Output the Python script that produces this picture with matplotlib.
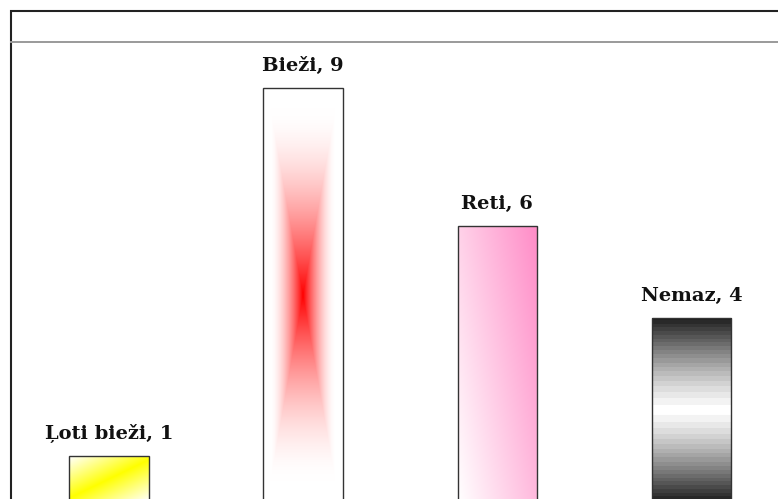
import numpy as np
import matplotlib.pyplot as plt
from matplotlib.patches import Rectangle
from matplotlib.lines import Line2D

categories = ["Ļoti bieži", "Bieži", "Reti", "Nemaz"]
values = [1, 9, 6, 4]
fill_styles = ["axial_diag", "rect", "linear", "axial_vert"]
fill_colors = ["#ffff00", "#ff0000", "#ff8ec8", "#1e1e1e"]

W, H = 778, 499
BAR_W = 0.41


def gradient(style, color, nx, ny):
    """Return an RGB array (row 0 = top) filling a bar of nx by ny pixels."""
    u = np.linspace(-1, 1, nx)[None, :]
    v = np.linspace(1, -1, ny)[:, None]  # +1 at top
    rgb = np.array(plt.matplotlib.colors.to_rgb(color))
    if style == "axial_diag":
        # stripe running bottom-left to top-right, white toward the corners
        px = u * nx / 2
        py = -v * ny / 2  # screen y down
        n = np.array([ny * 0.85, nx])
        n = n / np.hypot(*n)
        d = px * n[0] + py * n[1]
        dmax = np.abs(nx / 2 * n[0]) + np.abs(ny / 2 * n[1])
        t = 1 - np.abs(d) / dmax
    elif style == "rect":
        t = 1 - np.maximum(np.abs(u) / 0.82, np.abs(v) / 0.9)
        t = np.clip(t, 0, 1) ** 1.7
    elif style == "linear":
        t = np.clip(0.62 * (u + 1) / 2 + 0.4 * (v + 1) / 2, 0, 1)
        t = t * np.ones((ny, nx))
    else:
        # black at top and bottom, white in the middle, stepped
        t = np.abs(v) ** 1.3 * np.ones((ny, nx))
        t = np.round(t * 20) / 20
    t = t[..., None]
    white = np.ones(3)
    return white * (1 - t) + rgb * t


fig = plt.figure(figsize=(W / 100, H / 100), dpi=100)
ax = fig.add_axes([11.8 / W, -3 / H, 777 / W, 460 / H])
ax.set_xlim(-0.5, 3.5)
ax.set_ylim(0, 10)
ax.set_axis_off()

x = np.arange(len(categories))
bars = ax.bar(x, values, width=BAR_W, facecolor="none", edgecolor="#333333",
              linewidth=1.0, zorder=3)

for xi, val, style, col, bar in zip(x, values, fill_styles, fill_colors, bars):
    (px0, py0) = ax.transData.transform((xi - BAR_W / 2, 0))
    (px1, py1) = ax.transData.transform((xi + BAR_W / 2, val))
    nx = max(int(round(px1 - px0)), 2)
    ny = max(int(round(py1 - py0)), 2)
    img = gradient(style, col, nx, ny)
    ax.imshow(img, extent=(xi - BAR_W / 2, xi + BAR_W / 2, 0, val),
              aspect="auto", origin="upper", interpolation="bilinear", zorder=2)
    ax.annotate(f"{categories[xi]}, {val}", (xi, val), xytext=(0, 12.5),
                textcoords="offset points", ha="center", va="baseline",
                fontsize=14, fontweight="bold", family="DejaVu Serif",
                color="#111111")

ax.set_xlim(-0.5, 3.5)
ax.set_ylim(0, 10)

# chart frame: outer wall and top edge of the plot area
fig.add_artist(Rectangle((11 / W, -0.1), 1.2, (H - 11) / H + 0.1,
                         transform=fig.transFigure, fill=False,
                         edgecolor="#222222", linewidth=1.5))
fig.add_artist(Line2D([11 / W, 1.0], [(H - 41.7) / H] * 2,
                      transform=fig.transFigure, color="#9a9a9a", linewidth=1.4))

fig.savefig("out.png", dpi=100)
